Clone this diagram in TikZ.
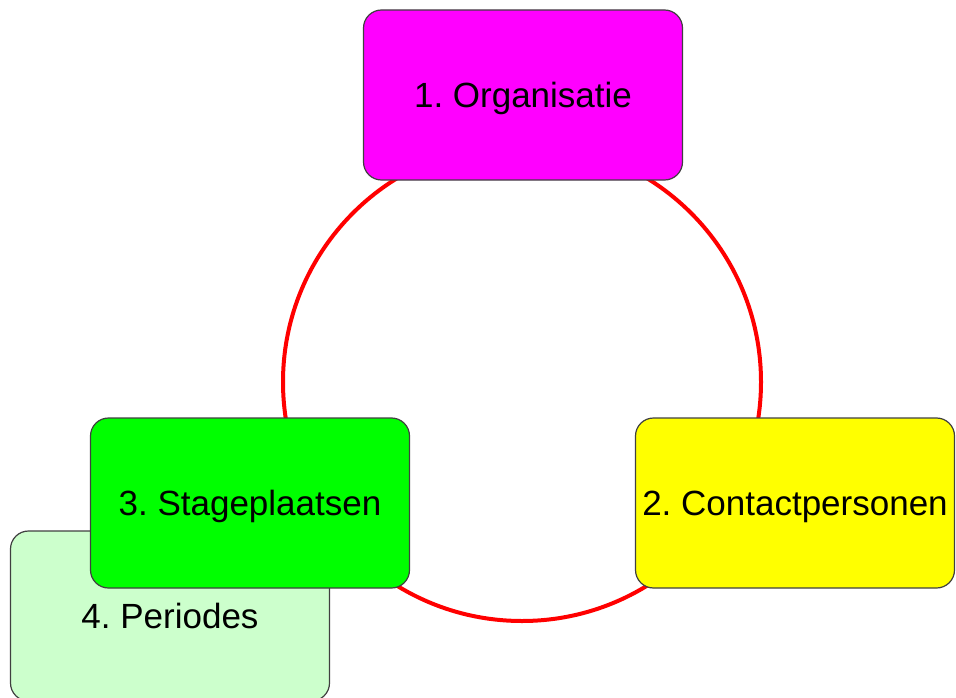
\documentclass[tikz,border=0pt]{standalone}
\usepackage{fontspec}
\setmainfont{Liberation Sans}
\usepackage{tikz}
\usetikzlibrary{positioning}
\definecolor{orgpink}{HTML}{FF00FF}
\definecolor{contactyellow}{HTML}{FFFF00}
\definecolor{stagegreen}{HTML}{00FF00}
\definecolor{periodgreen}{HTML}{CCFFCC}
\frenchspacing

\begin{document}
\begin{tikzpicture}[x=1pt, y=-1pt, font=\fontsize{35}{40}\selectfont]
   \useasboundingbox (0,0) rectangle (956,698);
   \clip (0,0) rectangle (956,698);
   % ring
   \coordinate (ringcenter) at (522,382);
   \draw[red, line width=4pt] (ringcenter) circle[radius=239pt];
   \begin{scope}[every node/.style={rectangle, rounded corners=18pt, draw=black!75, line width=1.2pt,
                 minimum width=319pt, minimum height=170pt, inner sep=0pt, text=black,
                 text height=25pt, text depth=0pt}]
    \node[fill=orgpink] (org) at (523,95) {1. Organisatie};
    \node[fill=contactyellow] (contact) at (795,503) {2. Contactpersonen};
    \node[fill=periodgreen] (periods) at (170,616) {4. Periodes};
    \node[fill=stagegreen] (stage) at (250,503) {3. Stageplaatsen};
   \end{scope}
\end{tikzpicture}
\end{document}
